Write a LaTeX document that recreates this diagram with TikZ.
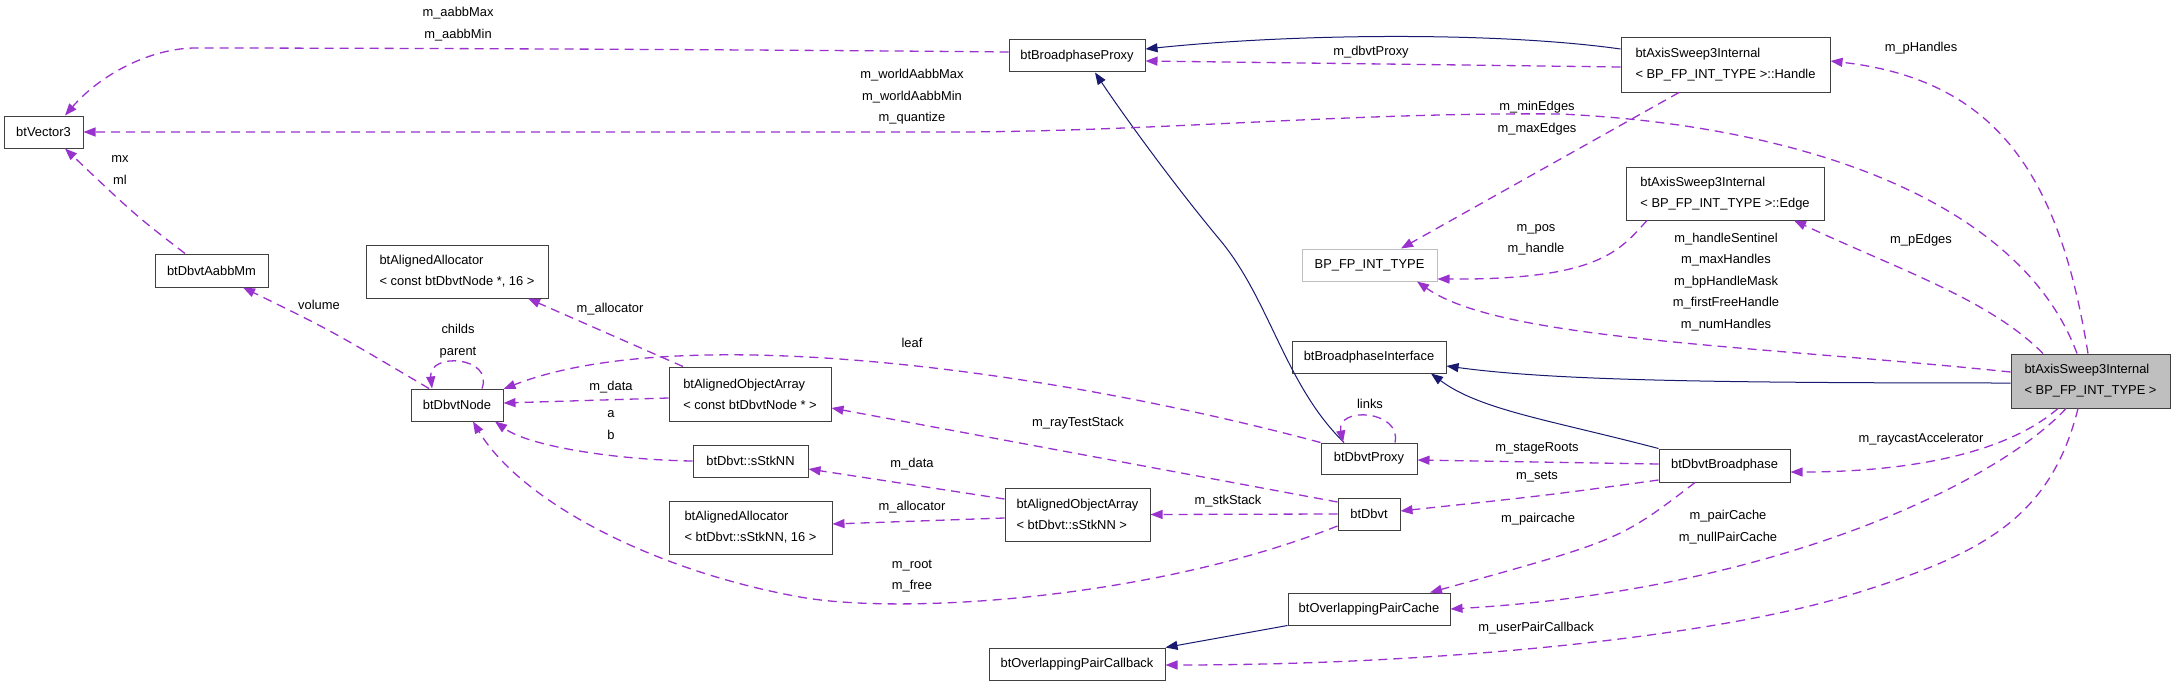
\documentclass[tikz,border=0pt]{standalone}
\usepackage{fontspec}
\setmainfont{Liberation Sans}
\usetikzlibrary{arrows.meta}
\definecolor{usecol}{HTML}{9A32CD}
\definecolor{inhcol}{HTML}{191970}
\tikzset{
  cls/.style={draw=black!75, line width=1pt, fill=white, minimum height=32, inner sep=3pt,
    font=\fontsize{12.9}{21}\selectfont},
  twoline/.style={cls, align=left, minimum height=54},
  mainbox/.style={twoline, fill=black!25},
  extbox/.style={cls, draw=black!25},
  lbl/.style={align=center, inner sep=0pt, font=\fontsize{12.9}{21.5}\selectfont},
  use/.style={usecol, dash pattern=on 9pt off 6pt, line width=1.3pt,
    -{Triangle[length=12pt,width=9pt]}},
  inherit/.style={inhcol, line width=1pt, -{Triangle[length=12pt,width=9pt]}}
}
\begin{document}
\begin{tikzpicture}[x=1pt,y=-1pt]
            \useasboundingbox (0,0) rectangle (2176,685);
            % classes
            \node[cls, minimum width=79] (vec) at (43.5,132) {btVector3};
            \node[cls, minimum width=113, minimum height=33] (aabbmm) at (211.5,270.5) {btDbvtAabbMm};
            \node[twoline, minimum width=182, minimum height=53] (allocnode) at (457,271.5) {btAlignedAllocator\\< const btDbvtNode *, 16 >};
            \node[cls, minimum width=92] (dbvtnode) at (457,405) {btDbvtNode};
            \node[twoline, minimum width=162] (arraynode) at (750,394) {btAlignedObjectArray\\< const btDbvtNode * >};
            \node[cls, minimum width=115] (stknn) at (750.5,461) {btDbvt::sStkNN};
            \node[twoline, minimum width=163, minimum height=53] (allocstk) at (750.5,527.5) {btAlignedAllocator\\< btDbvt::sStkNN, 16 >};
            \node[cls, minimum width=136] (bproxy) at (1077,56) {btBroadphaseProxy};
            \node[twoline, minimum width=145, minimum height=53] (arraystk) at (1077.5,514.5) {btAlignedObjectArray\\< btDbvt::sStkNN >};
            \node[cls, minimum width=176] (paircb) at (1077,664) {btOverlappingPairCallback};
            \node[extbox, minimum width=135] (bptype) at (1369.5,265) {BP\_FP\_INT\_TYPE};
            \node[cls, minimum width=154] (binterface) at (1369,357) {btBroadphaseInterface};
            \node[cls, minimum width=96, minimum height=31] (dproxy) at (1369,458.5) {btDbvtProxy};
            \node[cls, minimum width=62] (dbvt) at (1369,514) {btDbvt};
            \node[cls, minimum width=162] (paircache) at (1369,609) {btOverlappingPairCache};
            \node[twoline, minimum width=209] (handle) at (1725.5,65) {btAxisSweep3Internal\\< BP\_FP\_INT\_TYPE >::Handle};
            \node[twoline, minimum width=198, minimum height=53] (edge) at (1725,193.5) {btAxisSweep3Internal\\< BP\_FP\_INT\_TYPE >::Edge};
            \node[cls, minimum width=131, minimum height=33] (dbroad) at (1724.5,465.5) {btDbvtBroadphase};
            \node[mainbox, minimum width=159] (main) at (2090.5,381) {btAxisSweep3Internal\\< BP\_FP\_INT\_TYPE >};
            % inheritance
            \draw[inherit] (handle.west |- 0,49) .. controls (1500,32) and (1300,33) .. (bproxy.east |- 0,49);
            \draw[inherit] (dproxy.north -| 1344,0) .. controls (1285,385) and (1270,300) .. (1220,240)
                .. controls (1170,180) and (1120,110) .. (bproxy.south -| 1095,0);
            \draw[inherit] (main.west |- 0,383) .. controls (1700,383) and (1550,380) .. (binterface.east |- 0,366);
            \draw[inherit] (dbroad.north west) .. controls (1550,420) and (1480,410) .. (binterface.south -| 1431,0);
            \draw[inherit] (paircache.south west) -- (paircb.north east);
            % members
            \draw[use] (bproxy.west |- 0,52) .. controls (700,49) and (300,48) .. (196,48)
                .. controls (150,48) and (100,75) .. (vec.north -| 65,0);
            \node[lbl] (l-aabb) at (458,24) {m\_aabbMax\\m\_aabbMin};
            \draw[use] (aabbmm.north -| 185,0) .. controls (135,215) .. (vec.south -| 65,0);
            \node[lbl] (l-mx) at (120,170) {mx\\ml};
            \draw[use] (dbvtnode.north -| 429,0) .. controls (330,330) .. (aabbmm.south -| 243,0);
            \node[lbl] (l-volume) at (319,305) {volume};
            \draw[use] (dbvtnode.north -| 482,0) .. controls (494,356) and (428,352) .. (dbvtnode.north -| 432,0);
            \node[lbl] (l-childs) at (458,341) {childs\\parent};
            \draw[use] (arraynode.north west -| 683,0) -- (allocnode.south -| 528,0);
            \node[lbl] (l-alloc1) at (610,309) {m\_allocator};
            \draw[use] (arraynode.west |- 0,398) -- (dbvtnode.east |- 0,403);
            \node[lbl] (l-data1) at (611,387) {m\_data};
            \draw[use] (dproxy.north west) .. controls (1050,370) and (680,320) .. (dbvtnode.east |- 0,389);
            \node[lbl] (l-leaf) at (912,343) {leaf};
            \draw[use] (stknn.west) .. controls (620,460) and (530,447) .. (dbvtnode.south -| 495,0);
            \node[lbl] (l-ab) at (611,425) {a\\b};
            \draw[use] (dbvt.west |- 0,502) -- (arraynode.east |- 0,408);
            \node[lbl] (l-ray) at (1078,423) {m\_rayTestStack};
            \draw[use] (dbvt.west) -- (arraystk.east);
            \node[lbl] (l-stk) at (1228,501) {m\_stkStack};
            \draw[use] (dbvt.west |- 0,526) .. controls (1150,600) and (900,615) .. (800,597)
                .. controls (650,570) and (520,500) .. (dbvtnode.south -| 473,0);
            \node[lbl] (l-root) at (912,576) {m\_root\\m\_free};
            \draw[use] (arraystk.west |- 0,499) -- (stknn.east |- 0,469);
            \node[lbl] (l-data2) at (912,464) {m\_data};
            \draw[use] (arraystk.west |- 0,518) -- (allocstk.east |- 0,524);
            \node[lbl] (l-alloc2) at (912,507) {m\_allocator};
            \draw[use] (dproxy.north -| 1395,0) .. controls (1402,410) and (1336,406) .. (dproxy.north -| 1343,0);
            \node[lbl] (l-links) at (1370,404) {links};
            \draw[use] (dbroad.west |- 0,464) -- (dproxy.east |- 0,460);
            \node[lbl] (l-stage) at (1537,448) {m\_stageRoots};
            \draw[use] (dbroad.south west |- 0,480) .. controls (1550,495) .. (dbvt.east |- 0,511);
            \node[lbl] (l-sets) at (1537,477) {m\_sets};
            \draw[use] (dbroad.south -| 1695,0) .. controls (1620,540) .. (paircache.north -| 1430,0);
            \node[lbl] (l-pc1) at (1538,519) {m\_paircache};
            \draw[use] (main.south -| 2058,0) .. controls (2010,450) and (1920,472) .. (dbroad.east |- 0,472);
            \node[lbl] (l-ray2) at (1921,439) {m\_raycastAccelerator};
            \draw[use] (main.south -| 2066,0) .. controls (2000,480) and (1780,590) .. (paircache.east);
            \node[lbl] (l-pc2) at (1728,527) {m\_pairCache\\m\_nullPairCache};
            \draw[use] (main.south -| 2078,0) .. controls (2050,520) and (1980,555) .. (1850,595)
                .. controls (1720,635) and (1450,665) .. (paircb.east |- 0,665);
            \node[lbl] (l-user) at (1536,628) {m\_userPairCallback};
            \draw[use] (main.west |- 0,372) .. controls (1750,345) and (1500,340) .. (bptype.south -| 1417,0);
            \node[lbl] (l-hs) at (1726,282) {m\_handleSentinel\\m\_maxHandles\\m\_bpHandleMask\\m\_firstFreeHandle\\m\_numHandles};
            \draw[use] (main.north -| 2043,0) .. controls (1990,300) and (1900,270) .. (edge.south -| 1794,0);
            \node[lbl] (l-pedges) at (1921,240) {m\_pEdges};
            \draw[use] (main.north -| 2077,0) .. controls (2020,200) and (1800,125) .. (1560,114)
                .. controls (1350,112) and (1150,132) .. (950,132) -- (vec.east);
            \node[lbl] (l-world) at (912,97) {m\_worldAabbMax\\m\_worldAabbMin\\m\_quantize};
            \draw[use] (main.north -| 2088,0) .. controls (2060,180) and (2000,80) .. (handle.east |- 0,61);
            \node[lbl] (l-phandles) at (1921,48) {m\_pHandles};
            \draw[use] (handle.south -| 1679,0) -- (bptype.north -| 1401,0);
            \node[lbl] (l-minmax) at (1537,118) {m\_minEdges\\m\_maxEdges};
            \draw[use] (edge.south -| 1647,0) .. controls (1620,250) and (1600,280) .. (bptype.east |- 0,279);
            \node[lbl] (l-pos) at (1536,240) {m\_pos\\m\_handle};
            \draw[use] (handle.west |- 0,67) -- (bproxy.east |- 0,61);
            \node[lbl] (l-dproxy) at (1371,52) {m\_dbvtProxy};
\end{tikzpicture}
\end{document}
